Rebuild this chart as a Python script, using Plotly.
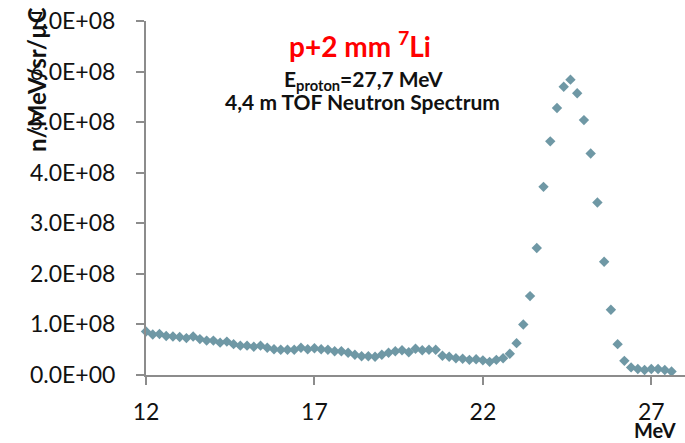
import plotly.graph_objects as go

# Neutron energy (MeV)
energy_mev = [
    12.0, 12.2, 12.4, 12.6, 12.8, 13.0, 13.2, 13.4, 13.6, 13.8,
    14.0, 14.2, 14.4, 14.6, 14.8, 15.0, 15.2, 15.4, 15.6, 15.8,
    16.0, 16.2, 16.4, 16.6, 16.8, 17.0, 17.2, 17.4, 17.6, 17.8,
    18.0, 18.2, 18.4, 18.6, 18.8, 19.0, 19.2, 19.4, 19.6, 19.8,
    20.0, 20.2, 20.4, 20.6, 20.8, 21.0, 21.2, 21.4, 21.6, 21.8,
    22.0, 22.2, 22.4, 22.6, 22.8, 23.0, 23.2, 23.4, 23.6, 23.8,
    24.0, 24.2, 24.4, 24.6, 24.8, 25.0, 25.2, 25.4, 25.6, 25.8,
    26.0, 26.2, 26.4, 26.6, 26.8, 27.0, 27.2, 27.4, 27.6,
]

# Yield in units of 1e8 n/MeV/sr/uC
yield_e8 = [
    0.86, 0.80, 0.81, 0.77, 0.76, 0.75, 0.73, 0.76, 0.71, 0.68,
    0.68, 0.64, 0.66, 0.61, 0.58, 0.58, 0.56, 0.58, 0.54, 0.51,
    0.50, 0.50, 0.50, 0.54, 0.51, 0.53, 0.51, 0.50, 0.47, 0.47,
    0.44, 0.40, 0.37, 0.37, 0.36, 0.40, 0.44, 0.47, 0.49, 0.45,
    0.52, 0.49, 0.50, 0.50, 0.38, 0.36, 0.33, 0.32, 0.30, 0.31,
    0.29, 0.26, 0.30, 0.33, 0.42, 0.63, 1.00, 1.56, 2.51, 3.72,
    4.62, 5.28, 5.70, 5.84, 5.57, 5.04, 4.38, 3.41, 2.24, 1.29,
    0.61, 0.28, 0.15, 0.12, 0.10, 0.12, 0.12, 0.10, 0.07,
]

x_ticks = [12, 17, 22, 27]
y_ticks = [0, 1e8, 2e8, 3e8, 4e8, 5e8, 6e8, 7e8]
y_tick_text = [f"{v:.1E}" for v in y_ticks]

yield_vals = [v * 1e8 for v in yield_e8]

FONT = "Lato"
AXIS_COL = "#8c8c8c"
TXT = "#111111"

fig = go.Figure()
fig.add_trace(go.Scatter(
    x=energy_mev, y=yield_vals, mode="markers",
    marker=dict(symbol="diamond", size=8, color="#6f98a5",
                line=dict(width=0)),
    cliponaxis=False, showlegend=False,
))

fig.update_layout(
    width=685, height=443,
    margin=dict(l=146, r=0, t=21, b=68),
    paper_bgcolor="white", plot_bgcolor="white",
    font=dict(family=FONT, size=23, color=TXT),
    xaxis=dict(
        range=[12, 28], tickvals=x_ticks, ticktext=[str(t) for t in x_ticks],
        showgrid=False, zeroline=False, showline=True, linecolor=AXIS_COL,
        linewidth=2, ticks="outside", ticklen=8, tickcolor=AXIS_COL, tickwidth=2,
        ticklabelstandoff=7, tickfont=dict(family=FONT, size=23, color=TXT),
    ),
    yaxis=dict(
        range=[0, 7e8], tickvals=y_ticks, ticktext=y_tick_text,
        showgrid=False, zeroline=False, showline=True, linecolor=AXIS_COL,
        linewidth=2, ticks="outside", ticklen=8, tickcolor=AXIS_COL, tickwidth=2,
        ticklabelstandoff=16, tickfont=dict(family=FONT, size=23, color=TXT),
    ),
)

def px_x(px):
    return (px - 146) / 539.0

def px_y(py):
    return (375 - py) / 354.0

annots = [
    dict(text="<b>p+2 mm <sup>7</sup>Li</b>", x=px_x(360), y=px_y(44),
         font=dict(family=FONT, size=28, color="#ff0000")),
    dict(text="<b>E<sub>proton</sub>=27,7 MeV</b>", x=px_x(363), y=px_y(80),
         font=dict(family=FONT, size=21, color=TXT)),
    dict(text="<b>4,4 m TOF Neutron Spectrum</b>", x=px_x(362), y=px_y(101),
         font=dict(family=FONT, size=21, color=TXT)),
    dict(text="<b>MeV</b>", x=px_x(655), y=px_y(429.5),
         font=dict(family=FONT, size=20, color=TXT)),
    dict(text="<b>n/MeV/sr/µC</b>", x=px_x(37), y=px_y(80), textangle=-90,
         font=dict(family=FONT, size=24, color=TXT)),
]
for a in annots:
    fig.add_annotation(xref="paper", yref="paper", showarrow=False,
                       xanchor="center", yanchor="middle", **a)

fig.write_html("out.html")
